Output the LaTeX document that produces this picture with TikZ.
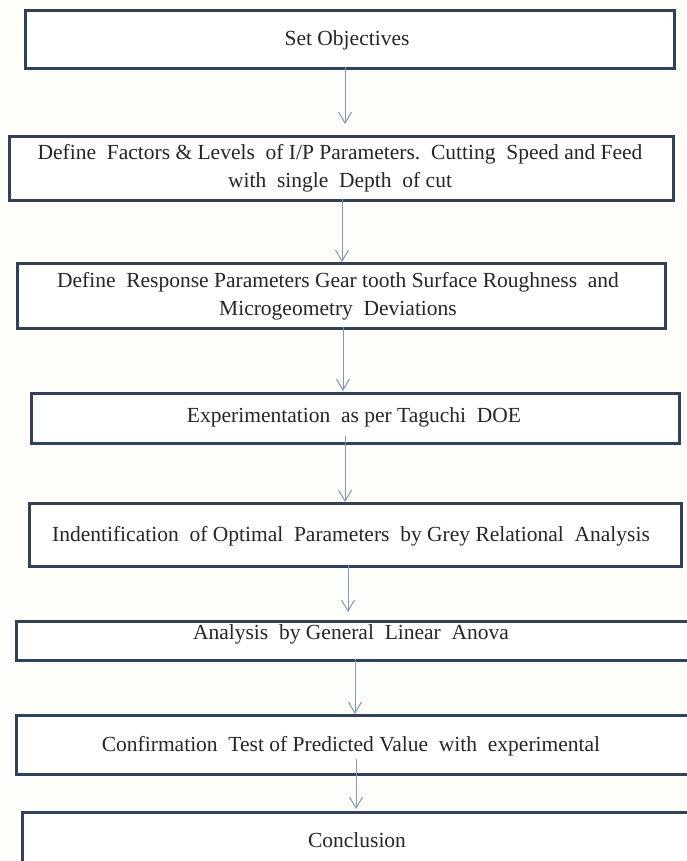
\documentclass[tikz,border=0pt]{standalone}
\usepackage{fontspec}
\setmainfont{Liberation Serif}
\usetikzlibrary{arrows.meta}
\definecolor{boxline}{HTML}{33405A}
\definecolor{arrcol}{HTML}{8497B2}
\definecolor{txtcol}{HTML}{262626}
\definecolor{bgcol}{HTML}{FDFDFA}
\begin{document}
\begin{tikzpicture}[x=1pt,y=-1pt,
  box/.style={draw=boxline, line width=2.8pt, fill=white, inner sep=0pt, anchor=north west},
  txt/.style={inner sep=0pt, align=center, text=txtcol, font=\fontsize{21.5}{28}\selectfont},
  arr/.style={draw=arrcol, line width=1pt, -{Straight Barb[length=11pt,width=13pt,line width=1pt]}}]
\fill[bgcol] (0,0) rectangle (686,861);
\useasboundingbox (0,0) rectangle (686,861);
% boxes
\node[box, minimum width=649pt, minimum height=58pt] (b1) at (24,9) {};
\node[box, minimum width=664pt, minimum height=64pt] (b2) at (8,135) {};
\node[box, minimum width=648pt, minimum height=65pt] (b3) at (16,262) {};
\node[box, minimum width=648pt, minimum height=50pt] (b4) at (30,392) {};
\node[box, minimum width=652pt, minimum height=63pt] (b5) at (28,502) {};
\node[box, minimum width=680pt, minimum height=39pt] (b6) at (15,620) {};
\node[box, minimum width=680pt, minimum height=59pt] (b7) at (15,714) {};
\node[box, minimum width=675pt, minimum height=60pt] (b8) at (21,811) {};
% texts
\node[txt] (t1) at (347,40) {Set Objectives};
\node[txt] (t2) at (340,168) {Define\ \ Factors \& Levels\ \ of I/P Parameters.\ \ Cutting\ \ Speed and Feed\\with\ \ single\ \ Depth\ \ of cut};
\node[txt] (t3) at (338,296) {Define\ \ Response Parameters Gear tooth Surface Roughness\ \ and\\Microgeometry\ \ Deviations};
\node[txt] (t4) at (354,417) {Experimentation\ \ as per Taguchi\ \ DOE};
\node[txt] (t5) at (351,536) {Indentification\ \ of Optimal\ \ Parameters\ \ by Grey Relational\ \ Analysis};
\node[txt] (t6) at (351,634) {Analysis\ \ by General\ \ Linear\ \ Anova};
\node[txt] (t7) at (351,746) {Confirmation\ \ Test of Predicted Value\ \ with\ \ experimental};
\node[txt] (t8) at (357,840) {Conclusion};
% arrow end points
\coordinate (a1s) at (345,67);  \coordinate (a1e) at (345,124);
\coordinate (a2s) at (342,199); \coordinate (a2e) at (342,262);
\coordinate (a3s) at (343,327); \coordinate (a3e) at (343,391);
\coordinate (a4s) at (345,436); \coordinate (a4e) at (345,502);
\coordinate (a5s) at (348,565); \coordinate (a5e) at (348,612);
\coordinate (a6s) at (355,659); \coordinate (a6e) at (355,714);
\coordinate (a7s) at (356,759); \coordinate (a7e) at (356,809);
\draw[arr] (a1s) -- (a1e);
\draw[arr] (a2s) -- (a2e);
\draw[arr] (a3s) -- (a3e);
\draw[arr] (a4s) -- (a4e);
\draw[arr] (a5s) -- (a5e);
\draw[arr] (a6s) -- (a6e);
\draw[arr] (a7s) -- (a7e);
\end{tikzpicture}
\end{document}
